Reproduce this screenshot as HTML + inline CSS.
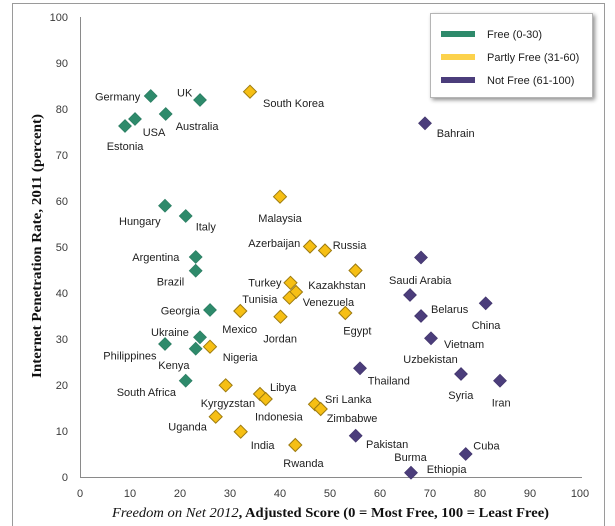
<!DOCTYPE html>
<html><head><meta charset="utf-8"><style>
html,body{margin:0;padding:0;background:#fff;}
svg{display:block;}
.lbl{font-family:"Liberation Sans",Arial,sans-serif;font-size:11px;fill:#1e1e1e;}
.tk{font-family:"Liberation Sans",Arial,sans-serif;font-size:11px;fill:#3a3a3a;}
.ttl{font-family:"Liberation Serif","Times New Roman",serif;font-size:13.5px;fill:#111;}
</style></head><body>
<svg width="615" height="526" viewBox="0 0 615 526" xmlns="http://www.w3.org/2000/svg">
<defs>
<filter id="sh" x="-10%" y="-10%" width="130%" height="130%">
<feGaussianBlur in="SourceAlpha" stdDeviation="2"/>
<feOffset dx="2" dy="2"/>
<feComponentTransfer><feFuncA type="linear" slope="0.45"/></feComponentTransfer>
<feMerge><feMergeNode/><feMergeNode in="SourceGraphic"/></feMerge>
</filter>
<path id="d" d="M0,-6.5 L6.5,0 L0,6.5 L-6.5,0 Z"/>
</defs>
<rect x="0" y="0" width="615" height="526" fill="#fff"/>
<!-- outer frame -->
<path d="M12.5,530 L12.5,3.5 L604.5,3.5 L604.5,530" fill="none" stroke="#9a9a9a" stroke-width="1"/>
<!-- axes -->
<line x1="80.5" y1="17" x2="80.5" y2="477" stroke="#8a8a8a" stroke-width="1"/>
<line x1="80" y1="477.5" x2="582" y2="477.5" stroke="#8a8a8a" stroke-width="1"/>
<!-- y ticks -->
<g class="tk" text-anchor="end">
<text x="68" y="21">100</text>
<text x="68" y="67">90</text>
<text x="68" y="113">80</text>
<text x="68" y="159">70</text>
<text x="68" y="205">60</text>
<text x="68" y="251">50</text>
<text x="68" y="297">40</text>
<text x="68" y="343">30</text>
<text x="68" y="389">20</text>
<text x="68" y="435">10</text>
<text x="68" y="481">0</text>
</g>
<!-- x ticks -->
<g class="tk" text-anchor="middle">
<text x="80" y="497">0</text>
<text x="130" y="497">10</text>
<text x="180" y="497">20</text>
<text x="230" y="497">30</text>
<text x="280" y="497">40</text>
<text x="330" y="497">50</text>
<text x="380" y="497">60</text>
<text x="430" y="497">70</text>
<text x="480" y="497">80</text>
<text x="530" y="497">90</text>
<text x="580" y="497">100</text>
</g>
<!-- axis titles -->
<text class="ttl" x="112" y="517" textLength="437" lengthAdjust="spacingAndGlyphs"><tspan font-style="italic">Freedom on Net 2012</tspan><tspan font-weight="bold">, Adjusted Score (0 = Most Free, 100 = Least Free)</tspan></text>
<text class="ttl" font-weight="bold" transform="translate(41,378) rotate(-90)" x="0" y="0" textLength="264" lengthAdjust="spacingAndGlyphs">Internet Penetration Rate, 2011 (percent)</text>

<!-- Free markers -->
<g fill="#2e8a6b" stroke="#2a7a60" stroke-width="0.6">
<use href="#d" x="150.7" y="96"/>
<use href="#d" x="200" y="100"/>
<use href="#d" x="135" y="119"/>
<use href="#d" x="125" y="126"/>
<use href="#d" x="165.7" y="114"/>
<use href="#d" x="165" y="205.7"/>
<use href="#d" x="185.7" y="216"/>
<use href="#d" x="195.7" y="257"/>
<use href="#d" x="195.7" y="270.7"/>
<use href="#d" x="210" y="310"/>
<use href="#d" x="200" y="337.3"/>
<use href="#d" x="165" y="344"/>
<use href="#d" x="195.7" y="348.7"/>
<use href="#d" x="185.7" y="380.7"/>
</g>
<!-- Partly Free markers -->
<g fill="#f6bf14" stroke="#9c7a10" stroke-width="1">
<use href="#d" x="250" y="91.7"/>
<use href="#d" x="280" y="196.7"/>
<use href="#d" x="310" y="246.5"/>
<use href="#d" x="325" y="250.5"/>
<use href="#d" x="290.5" y="282.8"/>
<use href="#d" x="355.5" y="270.5"/>
<use href="#d" x="296" y="292"/>
<use href="#d" x="289.5" y="297.7"/>
<use href="#d" x="240.3" y="311"/>
<use href="#d" x="280.5" y="316.7"/>
<use href="#d" x="345.3" y="313"/>
<use href="#d" x="210" y="346.7"/>
<use href="#d" x="225.7" y="385.3"/>
<use href="#d" x="260" y="394"/>
<use href="#d" x="265.7" y="399"/>
<use href="#d" x="215.7" y="416.7"/>
<use href="#d" x="240.7" y="431.7"/>
<use href="#d" x="295.3" y="445"/>
<use href="#d" x="315" y="404.3"/>
<use href="#d" x="320.7" y="409"/>
</g>
<!-- Not Free markers -->
<g fill="#4b3d7b" stroke="#3f3369" stroke-width="0.6">
<use href="#d" x="425" y="123.3"/>
<use href="#d" x="421" y="257.5"/>
<use href="#d" x="410" y="295"/>
<use href="#d" x="421" y="316"/>
<use href="#d" x="485.7" y="303.3"/>
<use href="#d" x="431" y="338.3"/>
<use href="#d" x="360" y="368.3"/>
<use href="#d" x="461" y="374"/>
<use href="#d" x="500" y="380.7"/>
<use href="#d" x="355.7" y="435.7"/>
<use href="#d" x="465.7" y="454"/>
<use href="#d" x="411" y="472.7"/>
</g>

<!-- labels -->
<g class="lbl">
<text x="95" y="100.5">Germany</text>
<text x="177" y="96.5">UK</text>
<text x="263" y="107">South Korea</text>
<text x="175.7" y="130">Australia</text>
<text x="142.7" y="136">USA</text>
<text x="106.7" y="150">Estonia</text>
<text x="119" y="225">Hungary</text>
<text x="195.7" y="230.5">Italy</text>
<text x="258.3" y="222">Malaysia</text>
<text x="248.3" y="247">Azerbaijan</text>
<text x="132.3" y="261">Argentina</text>
<text x="332.7" y="249">Russia</text>
<text x="436.7" y="137">Bahrain</text>
<text x="156.7" y="285.5">Brazil</text>
<text x="248.3" y="286.5">Turkey</text>
<text x="242.3" y="303">Tunisia</text>
<text x="160.7" y="314.5">Georgia</text>
<text x="222.3" y="333">Mexico</text>
<text x="263.3" y="342.5">Jordan</text>
<text x="151" y="336">Ukraine</text>
<text x="103.3" y="359.5">Philippines</text>
<text x="222.7" y="361">Nigeria</text>
<text x="158.3" y="369">Kenya</text>
<text x="116.7" y="396">South Africa</text>
<text x="270" y="391">Libya</text>
<text x="200.7" y="407">Kyrgyzstan</text>
<text x="255" y="420.5">Indonesia</text>
<text x="168.3" y="430.5">Uganda</text>
<text x="250.7" y="449">India</text>
<text x="283.3" y="467">Rwanda</text>
<text x="308.3" y="289">Kazakhstan</text>
<text x="389" y="284">Saudi Arabia</text>
<text x="302.7" y="306">Venezuela</text>
<text x="431" y="313">Belarus</text>
<text x="471.7" y="329">China</text>
<text x="343.3" y="334.5">Egypt</text>
<text x="444" y="348">Vietnam</text>
<text x="403.3" y="363">Uzbekistan</text>
<text x="367.7" y="384.5">Thailand</text>
<text x="448.3" y="399">Syria</text>
<text x="491.7" y="406.5">Iran</text>
<text x="325" y="403">Sri Lanka</text>
<text x="326.7" y="422">Zimbabwe</text>
<text x="366" y="448">Pakistan</text>
<text x="473.3" y="449.5">Cuba</text>
<text x="394.3" y="461">Burma</text>
<text x="426.7" y="473">Ethiopia</text>
</g>

<!-- legend -->
<rect x="430.5" y="13.5" width="162" height="84" fill="#fff" stroke="#b5b5b5" stroke-width="1" filter="url(#sh)"/>
<rect x="441" y="31" width="34" height="6" fill="#2e8a6b"/>
<rect x="441" y="54" width="34" height="6" fill="#fcd24c"/>
<rect x="441" y="77" width="34" height="6" fill="#4b3d7b"/>
<g class="lbl">
<text x="487" y="38">Free (0-30)</text>
<text x="487" y="61">Partly Free (31-60)</text>
<text x="487" y="84">Not Free (61-100)</text>
</g>
</svg>
</body></html>
